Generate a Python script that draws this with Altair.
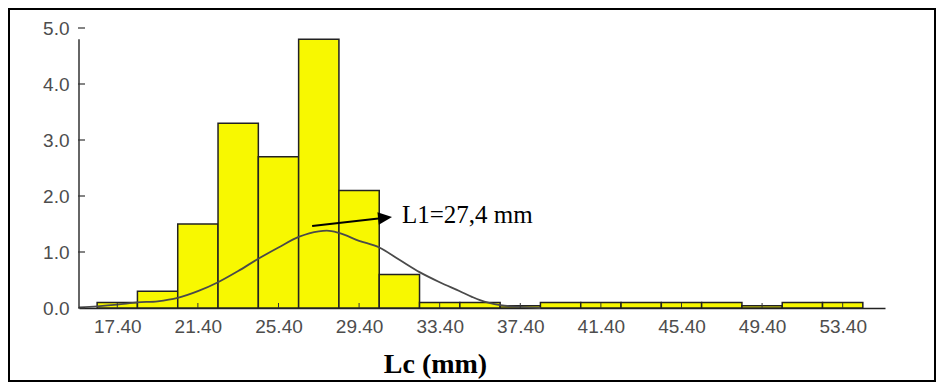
import altair as alt
import pandas as pd

# ---- data ----
bin_start = [16.4, 18.4, 20.4, 22.4, 24.4, 26.4, 28.4, 30.4, 32.4, 34.4,
             36.4, 38.4, 40.4, 42.4, 44.4, 46.4, 48.4, 50.4, 52.4]
bin_end = [18.4, 20.4, 22.4, 24.4, 26.4, 28.4, 30.4, 32.4, 34.4, 36.4,
           38.4, 40.4, 42.4, 44.4, 46.4, 48.4, 50.4, 52.4, 54.4]
bar_height = [0.1, 0.3, 1.5, 3.3, 2.7, 4.8, 2.1, 0.6, 0.1, 0.1,
              0.04, 0.1, 0.1, 0.1, 0.1, 0.1, 0.04, 0.1, 0.1]

curve_x = [15.5, 16.4, 17.4, 18.4, 19.4, 20.4, 21.4, 22.4, 23.4, 24.4, 25.4,
           26.4, 27.4, 27.8, 28.4, 29.4, 30.4, 31.4, 32.4, 33.4, 34.4, 35.0,
           35.4, 36.4, 37.4, 38.4]
curve_y = [0.01, 0.03, 0.06, 0.1, 0.12, 0.18, 0.3, 0.46, 0.66, 0.88, 1.08,
           1.27, 1.37, 1.38, 1.34, 1.2, 1.08, 0.86, 0.64, 0.46, 0.3, 0.2,
           0.14, 0.05, 0.02, 0.0]

x_tick_values = [17.4, 21.4, 25.4, 29.4, 33.4, 37.4, 41.4, 45.4, 49.4, 53.4]
y_tick_values = [0, 1, 2, 3, 4, 5]
x_domain = [15.5, 55.5]
y_domain = [0, 5]
y_axis_top = 4.8

annotation_text = ["L1=27,4 mm"]
annotation_x = [31.53]
annotation_y = [1.51]
arrow_x = [27.07]
arrow_y = [1.464]
arrow_x2 = [30.69]
arrow_y2 = [1.611]
arrow_angle = 353.6

x_title = "Lc (mm)"

# ---- tables ----
bars = pd.DataFrame({"x": bin_start, "x2": bin_end, "y": bar_height})
curve = pd.DataFrame({"x": curve_x, "y": curve_y})
xticks = pd.DataFrame({"x": x_tick_values})
yticks = pd.DataFrame({"y": y_tick_values})
ann = pd.DataFrame({"x": annotation_x, "y": annotation_y, "t": annotation_text})
arrow = pd.DataFrame({"x": arrow_x, "y": arrow_y, "x2": arrow_x2, "y2": arrow_y2})
one = pd.DataFrame({"a": [0]})

xs = alt.Scale(domain=x_domain, nice=False, zero=False)
ys = alt.Scale(domain=y_domain, nice=False, zero=False)

label_font = "Liberation Sans"
label_color = "#4d4d4d"

x_axis = alt.Axis(values=x_tick_values, format=".2f", tickSize=0, labelPadding=9,
                  labelFont=label_font, labelFontSize=19, labelColor=label_color,
                  labelOverlap=False, labelFlush=False,
                  domainColor="#222222", domainWidth=1.5, grid=False,
                  title=x_title, titleFont="Liberation Serif", titleFontSize=28,
                  titleFontWeight="bold", titleColor="black", titleX=356, titleY=64,
                  titleBaseline="alphabetic", titleAlign="center")
y_axis = alt.Axis(values=y_tick_values, format=".1f", tickSize=0, labelPadding=10,
                  labelFont=label_font, labelFontSize=19, labelColor=label_color,
                  domain=False, grid=False, title=None)


def X(field):
    return alt.X(field, scale=xs, axis=x_axis, title=x_title)


def Y(field):
    return alt.Y(field, scale=ys, axis=y_axis, title=None)


bar_layer = alt.Chart(bars).mark_rect(color="#f8f800", stroke="#222222", strokeWidth=1.5).encode(
    x=X("x:Q"),
    x2="x2:Q",
    y=Y("y:Q"),
    y2=alt.datum(0),
)

curve_layer = alt.Chart(curve).mark_line(color="#4a4a4a", strokeWidth=1.8, interpolate="monotone").encode(
    x=X("x:Q"),
    y=Y("y:Q"),
)

y_axis_line = alt.Chart(one).mark_rule(color="#333333", strokeWidth=1.5).encode(
    x=alt.value(0),
    y=alt.datum(0),
    y2=alt.datum(y_axis_top),
)

y_tick_layer = alt.Chart(yticks).mark_rule(color="#333333", strokeWidth=1.2).encode(
    x=alt.value(-1),
    x2=alt.value(6),
    y=Y("y:Q"),
)

x_tick_layer = alt.Chart(xticks).mark_rule(color="#333333", strokeWidth=1).encode(
    x=X("x:Q"),
    y=alt.value(280),
    y2=alt.value(275),
)

arrow_line = alt.Chart(arrow).mark_rule(color="black", strokeWidth=2).encode(
    x=X("x:Q"),
    y=Y("y:Q"),
    x2="x2:Q",
    y2="y2:Q",
)

arrow_head = alt.Chart(arrow).mark_point(
    shape="M-1,-0.9L1,0L-1,0.9Z", filled=True, color="black", opacity=1,
    size=196, angle=arrow_angle, strokeWidth=0,
).encode(
    x=X("x2:Q"),
    y=Y("y2:Q"),
)

ann_text = alt.Chart(ann).mark_text(
    align="left", baseline="alphabetic", font="Liberation Serif", fontSize=25, color="black"
).encode(
    x=X("x:Q"),
    y=Y("y:Q"),
    text="t:N",
)

border = alt.Chart(one).mark_rect(filled=False, stroke="black", strokeWidth=2).encode(
    x=alt.value(-70), x2=alt.value(856), y=alt.value(-19), y2=alt.value(353),
)

chart = alt.layer(
    bar_layer, curve_layer, y_axis_line, y_tick_layer, x_tick_layer,
    arrow_line, arrow_head, ann_text, border,
).properties(
    width=806, height=280,
    autosize=alt.AutoSizeParams(type="none"),
    padding={"left": 71, "top": 20, "right": 51, "bottom": 74},
    background="white",
).configure_view(stroke=None)

chart.save("out.html", embed_options={"renderer": "svg", "actions": False})
